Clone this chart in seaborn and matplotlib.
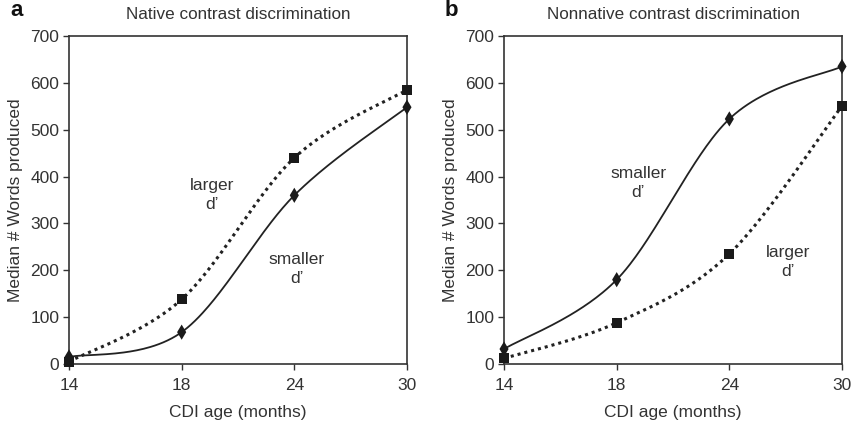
import numpy as np
import pandas as pd
import matplotlib
matplotlib.use("Agg")
import matplotlib.pyplot as plt
import seaborn as sns

# ---- data ----
ages = ["14", "18", "24", "30"]
native_larger = [5, 138, 440, 585]
native_smaller = [15, 68, 360, 548]
nonnative_smaller = [32, 180, 523, 635]
nonnative_larger = [12, 88, 235, 551]
yticks = [0, 100, 200, 300, 400, 500, 600, 700]

sns.set_theme(style="ticks")
plt.rcParams["font.family"] = ["Liberation Sans", "DejaVu Sans"]
TXT = "#333333"
plt.rcParams.update({"text.color": TXT, "axes.labelcolor": TXT,
                     "xtick.color": TXT, "ytick.color": TXT,
                     "axes.edgecolor": "#333333"})


def smooth(yvals, n=60):
    """Excel-style smoothed line (Bezier through points)."""
    pts = np.column_stack([np.arange(len(yvals), dtype=float), np.asarray(yvals, float)])
    out = []
    m = len(pts)
    t = np.linspace(0, 1, n)[:, None]
    for i in range(m - 1):
        p0 = pts[max(i - 1, 0)]
        p1 = pts[i]
        p2 = pts[i + 1]
        p3 = pts[min(i + 2, m - 1)]
        c1 = p1 + (p2 - p0) / 6.0
        c2 = p2 - (p3 - p1) / 6.0
        seg = ((1 - t) ** 3) * p1 + 3 * ((1 - t) ** 2) * t * c1 + 3 * (1 - t) * t ** 2 * c2 + t ** 3 * p2
        out.append(seg if i == 0 else seg[1:])
    arr = np.vstack(out)
    return arr[:, 0], arr[:, 1]


fig = plt.figure(figsize=(8.53, 4.26), dpi=100)
axA = fig.add_axes([0.0809, 0.1455, 0.3962, 0.77])
axB = fig.add_axes([0.5909, 0.1455, 0.3962, 0.77])


def draw(ax, solid, dotted, title, letter, labels):
    xs, ys = smooth(solid)
    sns.lineplot(x=xs, y=ys, ax=ax, sort=False, estimator=None, color="#222222", lw=1.3)
    xd, yd = smooth(dotted)
    ax.plot(xd, yd, color="#222222", lw=2.2, linestyle=(0, (1, 1.3)))
    idx = np.arange(len(ages))
    ax.scatter(idx, solid, marker="d", s=60, color="#1a1a1a", zorder=5, clip_on=False,
               edgecolors="none")
    ax.scatter(idx, dotted, marker="s", s=50, color="#1a1a1a", zorder=5, clip_on=False,
               edgecolors="none")
    ax.set_xlim(0, 3)
    ax.set_ylim(0, 700)
    ax.set_xticks(idx)
    ax.set_xticklabels(ages)
    ax.set_yticks(yticks)
    ax.tick_params(labelsize=12.5, length=4, width=1, direction="out", pad=3)
    ax.tick_params(axis="x", pad=6)
    for s in ax.spines.values():
        s.set_visible(True)
        s.set_linewidth(1.2)
    ax.set_xlabel("CDI age (months)", fontsize=12.5, labelpad=9)
    ax.set_ylabel("Median # Words produced", fontsize=12.5, labelpad=5)
    ax.set_title(title, fontsize=12.3, pad=12, color=TXT)
    ax.text(-0.155, 1.045, letter, transform=ax.transAxes, fontsize=16, fontweight="bold",
            color="#111111", ha="center", va="bottom")
    for (x, y, t) in labels:
        ax.text(x, y, t, ha="center", va="center", fontsize=12.5, color=TXT,
                linespacing=1.35)


draw(axA, native_smaller, native_larger, "Native contrast discrimination", "a",
     [(1.27, 360, "larger\nd\u2019"), (2.02, 203, "smaller\nd\u2019")])
draw(axB, nonnative_smaller, nonnative_larger, "Nonnative contrast discrimination", "b",
     [(1.19, 386, "smaller\nd\u2019"), (2.52, 218, "larger\nd\u2019")])

fig.savefig("out.png", dpi=100)
